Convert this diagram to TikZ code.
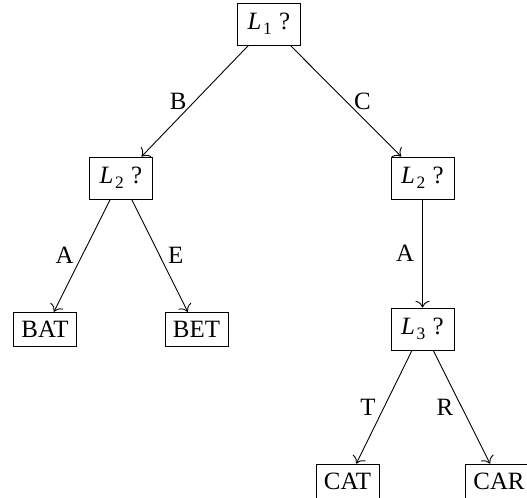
\documentclass[tikz,border=0pt]{standalone}
\usepackage{fontspec}
\setmainfont{Liberation Serif}
\usetikzlibrary{arrows.meta}

% italic L with a lowered index, then "?"
\newcommand\askpos[1]{\textit{L}\kern0.06em\raisebox{-0.2em}{\fontsize{17.5}{18}\selectfont #1}\kern0.3em?}

\begin{document}
\begin{tikzpicture}[
  x=1bp, y=-1bp,
  every node/.style={font=\fontsize{25}{30}\selectfont},
  leaf/.style={draw, line width=0.9bp, inner xsep=8bp, inner ysep=9bp},
  ask/.style={draw, line width=0.9bp, minimum width=63bp, minimum height=42bp, inner sep=6bp},
  branch/.style={-{To[scale=1.9]}, line width=0.9bp},
  lab/.style={midway, inner sep=8bp}
]
\useasboundingbox (0,0) rectangle (527,498);

\node[ask]  (l1)  at (269,24)    {\askpos{1}};
\node[ask]  (l2a) at (121,178)   {\askpos{2}};
\node[ask]  (l2b) at (422.5,178) {\askpos{2}};
\node[ask]  (l3)  at (422.5,329) {\askpos{3}};
\node[leaf] (bat) at (45,329.5)  {BAT};
\node[leaf] (bet) at (196.5,329.5) {BET};
\node[leaf] (cat) at (347.5,481.5) {CAT};
\node[leaf] (car) at (499,481.5) {CAR};

\draw[branch] (l1)  -- node[lab, left]  {B} (l2a);
\draw[branch] (l1)  -- node[lab, right] {C} (l2b);
\draw[branch] (l2a) -- node[lab, left]  {A} (bat);
\draw[branch] (l2a) -- node[lab, right] {E} (bet);
\draw[branch] (l2b) -- node[lab, left]  {A} (l3);
\draw[branch] (l3)  -- node[lab, left]  {T} (cat);
\draw[branch] (l3)  -- node[lab, left]  {R} (car);
\end{tikzpicture}
\end{document}
